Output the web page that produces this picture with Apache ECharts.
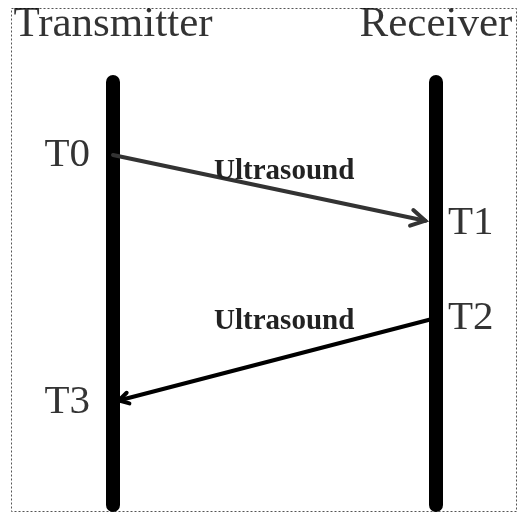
<!DOCTYPE html>
<html>
<head>
<meta charset="utf-8">
<script src="https://cdn.jsdelivr.net/npm/echarts@6/dist/echarts.min.js"></script>
<style>
  html, body { margin: 0; padding: 0; background: #fff; }
  #chart { width: 519px; height: 515px; }
</style>
</head>
<body>
<div id="chart"></div>
<script>
// participants (x: 0 = Transmitter, 1 = Receiver)
var nodeNames = ['Transmitter', 'Receiver'];
var nodeX = [0, 1];
var lifelineSpan = [7, 430];          // time extent of the vertical lifelines

// timestamps on the lifelines
var eventNames = ['T0', 'T1', 'T2', 'T3'];
var eventNode = [0, 1, 1, 0];
var eventTime = [80, 148, 243, 327];

// messages between events
var messageFrom = [0, 2];
var messageTo = [1, 3];
var messageText = ['Ultrasound', 'Ultrasound'];
var messageLabelX = [0.53, 0.53];
var messageLabelTime = [97, 247];

var SERIF = '"Liberation Serif", "DejaVu Serif", serif';
var chart = echarts.init(document.getElementById('chart'));

// lifelines
var lifelineSeries = nodeX.map(function (x) {
  return {
    type: 'line',
    silent: true,
    clip: false,
    symbol: 'none',
    lineStyle: { color: '#000', width: 14, cap: 'round' },
    data: [[x, lifelineSpan[0]], [x, lifelineSpan[1]]],
    z: 1
  };
});

// participant names above the lifelines
var headerSeries = {
  type: 'scatter',
  silent: true,
  symbolSize: 0,
  label: {
    show: true,
    position: 'inside',
    offset: [0, -50],
    formatter: '{b}',
    fontFamily: SERIF,
    fontSize: 43,
    color: '#000',
    textBorderWidth: 0
  },
  data: nodeNames.map(function (n, i) { return { name: n, value: [nodeX[i], 0] }; })
};

// T0..T3
var eventSeries = {
  type: 'scatter',
  silent: true,
  symbolSize: 0,
  label: { show: true, formatter: '{b}', fontFamily: SERIF, fontSize: 41, color: '#000' },
  data: eventNames.map(function (n, i) {
    var left = eventNode[i] === 0;
    return {
      name: n,
      value: [nodeX[eventNode[i]], eventTime[i]],
      label: { position: left ? 'left' : 'right', distance: left ? 23 : 12 }
    };
  })
};

// arrows
var msgColor = ['#333', '#000'];
var msgGap = [11, 6];
var msgHead = [16, 11];
var messageSeries = {
  type: 'custom',
  silent: true,
  clip: false,
  z: 3,
  data: messageFrom.map(function (f, i) {
    var t = messageTo[i];
    return [nodeX[eventNode[f]], eventTime[f], nodeX[eventNode[t]], eventTime[t],
            messageLabelX[i], messageLabelTime[i]];
  }),
  renderItem: function (params, api) {
    var i = params.dataIndex;
    var p1 = api.coord([api.value(0), api.value(1)]);
    var p2 = api.coord([api.value(2), api.value(3)]);
    var lp = api.coord([api.value(4), api.value(5)]);
    var dx = p2[0] - p1[0], dy = p2[1] - p1[1];
    var len = Math.sqrt(dx * dx + dy * dy);
    var ux = dx / len, uy = dy / len;
    var tip = [p2[0] - ux * msgGap[i], p2[1] - uy * msgGap[i]];
    var h = msgHead[i], a = Math.PI / 6;
    var ang = Math.atan2(-uy, -ux);
    var w1 = [tip[0] + h * Math.cos(ang + a), tip[1] + h * Math.sin(ang + a)];
    var w2 = [tip[0] + h * Math.cos(ang - a), tip[1] + h * Math.sin(ang - a)];
    var st = { stroke: msgColor[i], lineWidth: 4, fill: null, lineCap: 'round', lineJoin: 'miter' };
    return {
      type: 'group',
      children: [
        { type: 'line', shape: { x1: p1[0], y1: p1[1], x2: tip[0], y2: tip[1] }, style: st },
        { type: 'polyline', shape: { points: [w1, tip, w2] }, style: st },
        {
          type: 'text',
          x: lp[0], y: lp[1],
          style: {
            text: messageText[i],
            fontFamily: SERIF,
            fontSize: 29,
            fontWeight: 'bold',
            fill: '#222',
            align: 'center',
            verticalAlign: 'middle'
          }
        }
      ]
    };
  }
};

var option = {
  backgroundColor: '#fff',
  animation: false,
  grid: { left: 113, right: 83, top: 75, bottom: 3 },
  xAxis: { type: 'value', min: 0, max: 1, show: false },
  yAxis: { type: 'value', min: 0, max: 437, inverse: true, show: false },
  graphic: [{
    type: 'rect',
    silent: true,
    shape: { x: 11.5, y: 8.5, width: 505, height: 503 },
    style: { fill: null, stroke: '#555', lineWidth: 1, lineDash: [2, 2] },
    z: 0
  }],
  series: lifelineSeries.concat([headerSeries, eventSeries, messageSeries])
};

chart.setOption(option);
</script>
</body>
</html>
